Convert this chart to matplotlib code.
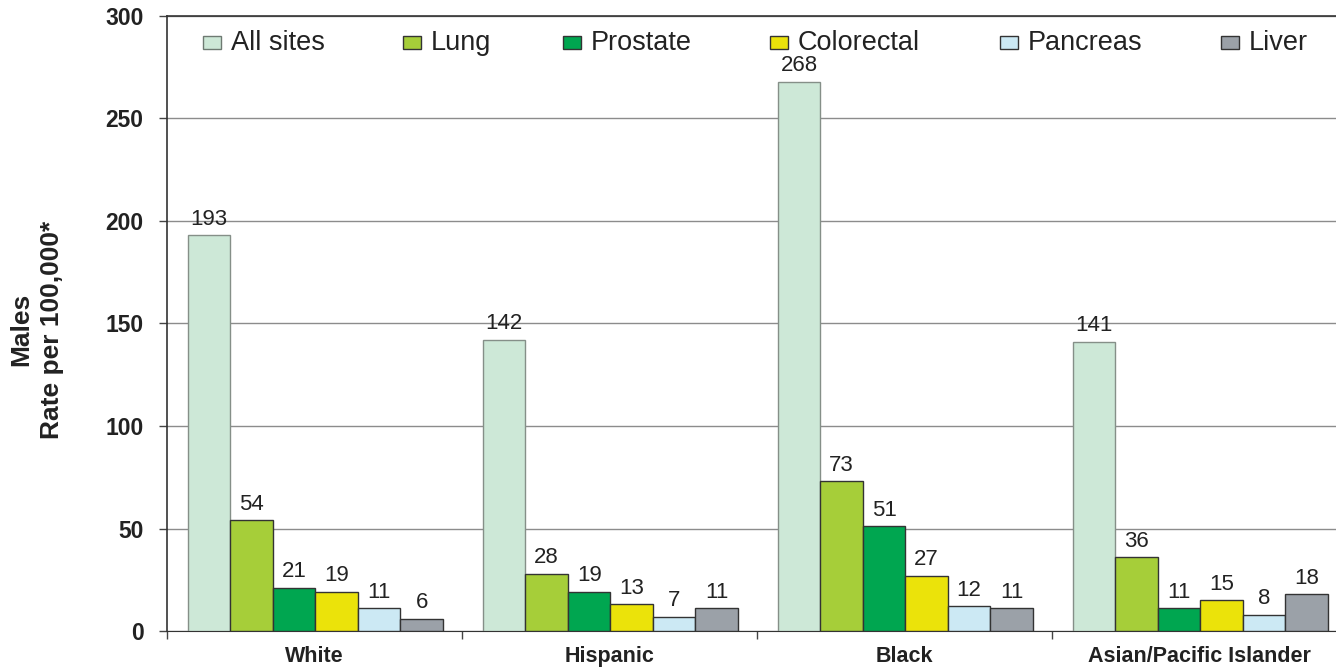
import matplotlib
matplotlib.use("Agg")
import matplotlib.pyplot as plt
from matplotlib.patches import Rectangle
import numpy as np

plt.rcParams['font.family'] = ['Liberation Sans', 'DejaVu Sans']

categories = ["White", "Hispanic", "Black", "Asian/Pacific Islander"]
series_names = ["All sites", "Lung", "Prostate", "Colorectal", "Pancreas", "Liver"]
values = {
    "All sites":  [193, 142, 268, 141],
    "Lung":       [54, 28, 73, 36],
    "Prostate":   [21, 19, 51, 11],
    "Colorectal": [19, 13, 27, 15],
    "Pancreas":   [11, 7, 12, 8],
    "Liver":      [6, 11, 11, 18],
}
colors = ["#CDE8D7", "#A6CE39", "#00A650", "#EBE30A", "#CCE9F4", "#9BA1A8"]
yticks = [0, 50, 100, 150, 200, 250, 300]

W, H = 1336, 672
fig = plt.figure(figsize=(W/100, H/100), dpi=100)
left_px, right_px = 167, 1347
ax = fig.add_axes([left_px/W, (H-631)/H, (right_px-left_px)/W, (631-16)/H])

bw = 0.144
x = np.arange(len(categories))
offset0 = -0.5 + 0.071
for i, s in enumerate(series_names):
    pos = x + offset0 + bw*(i + 0.5)
    ec = "#858F88" if i == 0 else "#333333"
    ax.bar(pos, values[s], width=bw, color=colors[i], edgecolor=ec,
           linewidth=1.0, label=s, zorder=3)
    for xp, v in zip(pos, values[s]):
        ax.annotate(str(v), (xp, v), xytext=(0, 4), textcoords="offset points",
                    ha="center", va="bottom", fontsize=16, color="#222222")

ax.set_xlim(-0.5, len(categories) - 0.5)
ax.set_ylim(0, 300)
ax.set_yticks(yticks)
ax.set_yticklabels([str(t) for t in yticks], fontsize=16.5, fontweight="bold", color="#222222")
ax.yaxis.grid(True, color="#8C8C8C", linewidth=1.0, zorder=0)
ax.set_axisbelow(True)
ax.tick_params(axis="y", direction="out", length=6, width=1, color="#444444", pad=11)

ax.set_xticks(x)
ax.set_xticklabels(categories, fontsize=15.5, fontweight="bold", color="#222222")
ax.tick_params(axis="x", length=0, pad=11)
ax.set_xticks(np.arange(len(categories) + 1) - 0.5, minor=True)
ax.tick_params(axis="x", which="minor", direction="out", length=6, width=1, color="#444444")

ax.spines["right"].set_visible(False)
for sp in ["top", "left", "bottom"]:
    ax.spines[sp].set_color("#333333")
ax.spines["left"].set_linewidth(1.2)
ax.spines["top"].set_linewidth(1.2)

ax.set_ylabel("Males\nRate per 100,000*", fontsize=19, fontweight="bold",
              color="#222222", linespacing=1.35)
ax.yaxis.set_label_coords((64 - left_px) / (right_px - left_px), 0.49)

# legend, drawn entry by entry
leg_x_px = [203, 403, 563, 770, 1000, 1221]
for s, c, lx in zip(series_names, colors, leg_x_px):
    ec = "#6E7A72" if s == "All sites" else "#333333"
    fig.patches.append(Rectangle((lx / W, (H - 49) / H), 18 / W, 13 / H,
                                 transform=fig.transFigure, facecolor=c,
                                 edgecolor=ec, linewidth=1.0))
    fig.text((lx + 28) / W, (H - 43) / H, s, fontsize=19.5, color="#222222",
             ha="left", va="center")

fig.savefig("out.png", dpi=100)
